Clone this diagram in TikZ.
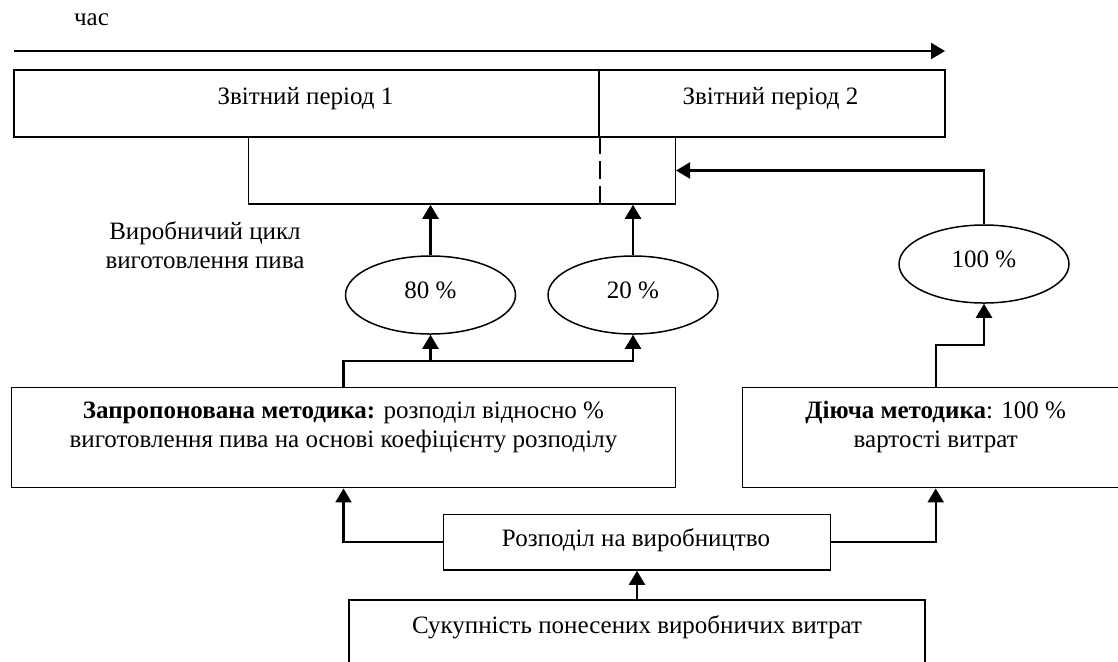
\documentclass[tikz,border=0pt]{standalone}
\usepackage{fontspec}
\setmainfont{Liberation Serif}
\usetikzlibrary{arrows.meta,shapes.geometric}
\begin{document}
\begin{tikzpicture}[x=0.5pt,y=-0.5pt,
  box/.style={draw,line width=0.75pt,rectangle,inner sep=0pt},
  oval/.style={draw,line width=0.75pt,ellipse,inner sep=0pt,minimum width=85pt,minimum height=39pt,
    font=\fontsize{12.5}{14.5}\selectfont,text depth=5pt},
  txt/.style={font=\fontsize{12.5}{14.5}\selectfont,align=center,inner sep=0pt},
  conn/.style={line width=1.15pt,-{Triangle[length=7pt,width=8pt]}},
]
\useasboundingbox (0,0) rectangle (1118,661);
% time axis
\node[txt,anchor=base] (tlabel) at (91.5,25) {час};
\coordinate (t0) at (14,51);
\coordinate (t1) at (945,51);
\draw[conn] (t0) -- (t1);
% periods
\node[box,minimum width=292.5pt,minimum height=33.5pt] (p1) at (306.5,103.5) {};
\node[box,minimum width=173pt,minimum height=33.5pt] (p2) at (772,103.5) {};
\node[txt,anchor=base] (p1t) at (305.5,104) {Звітний період 1};
\node[txt,anchor=base] (p2t) at (770.5,104) {Звітний період 2};
% production cycle box
\node[box,minimum width=213.3pt,minimum height=33.5pt] (cyc) at (462,170.5) {};
\draw[line width=0.9pt,dash pattern=on 9pt off 3.5pt] (cyc.north -| p1.east) -- (cyc.south -| p1.east);
\node[txt] (cyct) at (205,245) {Виробничий цикл\\виготовлення пива};
% ellipses
\node[oval] (e80) at (430.5,295) {80 \%};
\node[oval] (e20) at (633,295) {20 \%};
\node[oval] (e100) at (984,264) {100 \%};
\draw[conn] (e80.north) -- (e80.north |- cyc.south);
\draw[conn] (e20.north) -- (e20.north |- cyc.south);
\draw[conn] (e100.north) |- (cyc.east);
% methods
\node[box,minimum width=331.8pt,minimum height=50pt] (prop) at (343.5,437.7) {};
\node[txt] (propt) at (343.5,427) {\textbf{Запропонована методика:} розподіл відносно \%\\виготовлення пива на основі коефіцієнту розподілу};
\node[box,minimum width=193pt,minimum height=50pt] (act) at (935.7,437.7) {};
\node[txt] (actt) at (935.7,427) {\textbf{Діюча методика}: 100 \%\\вартості витрат};
\coordinate (j1) at (343.5,361);
\draw[conn] (prop.north) -- (j1) -| (e20.south);
\draw[conn] (e80.south |- j1) -- (e80.south);
\coordinate (j2) at (935.7,345);
\draw[conn] (act.north) -- (j2) -| (e100.south);
% distribution
\node[box,minimum width=193.3pt,minimum height=27.85pt] (rozp) at (637,542.2) {};
\node[txt] (rozpt) at (636,540) {Розподіл на виробництво};
\draw[conn] (rozp.west) -| (prop.south);
\draw[conn] (rozp.east) -| (act.south);
% total costs
\node[box,minimum width=288pt,minimum height=50pt] (suk) at (637,650) {};
\node[txt] (sukt) at (637,627) {Сукупність понесених виробничих витрат};
\draw[conn] (suk.north) -- (rozp.south);
\end{tikzpicture}
\end{document}
